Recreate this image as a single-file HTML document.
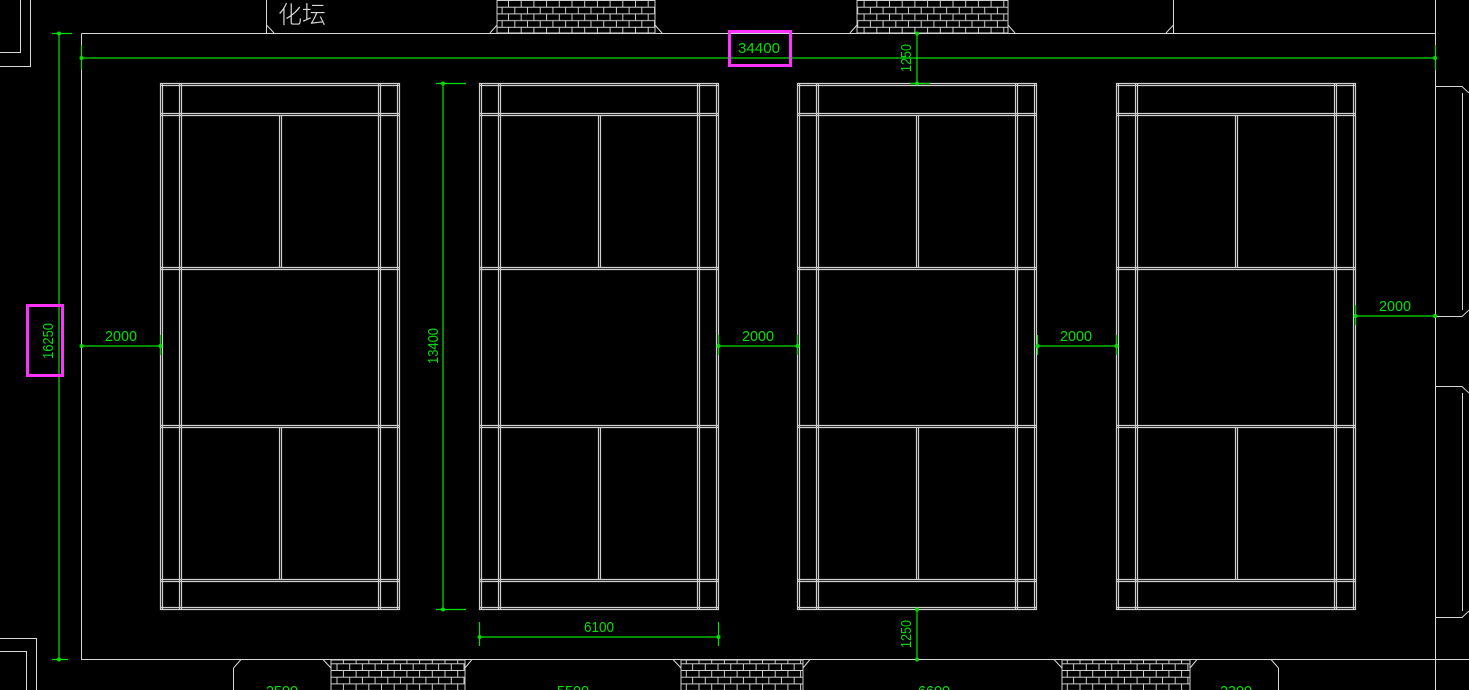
<!DOCTYPE html>
<html><head><meta charset="utf-8"><style>html,body{margin:0;padding:0;background:#000;}svg{display:block}</style></head>
<body>
<svg width="1469" height="690" viewBox="0 0 1469 690" xmlns="http://www.w3.org/2000/svg">
<defs>
<pattern id="brick" width="12.7" height="13.4" patternUnits="userSpaceOnUse" x="0" y="0">
<rect width="12.7" height="13.4" fill="#000"/>
<path d="M0 0.5H12.7M0 7.2H12.7M0.5 0.5V7.2M6.8 7.2V13.4" stroke="#cfcfcf" stroke-width="1" fill="none"/>
</pattern>
<g id="court" fill="none" stroke="#cfcfcf" stroke-width="1.2">
<path d="M0.5 0V527M2.5 0V527M237.5 0V527M239.5 0V527M19.5 0V527M21.5 0V527M218.5 0V527M220.5 0V527"/>
<path d="M0 0.5H240M0 2.5H240M0 30.5H240M0 32.5H240M0 184.5H240M0 186.5H240M0 342.5H240M0 344.5H240M0 496.5H240M0 498.5H240M0 524.5H240M0 526.5H240"/>
<path d="M119.5 32V184M121.5 32V184M119.5 344V496M121.5 344V496"/>
</g>
</defs>
<rect width="1469" height="690" fill="#000"/>
<g fill="none" stroke="#d8d8d8" stroke-width="1">
<path d="M81.5 33.5H1435M81.5 33.5V659.5H1435M1435.5 0V690"/>
<path d="M0 52.5H20.5V0M0 66.5H30.5V0"/>
<path d="M0 638.5H36.5V690M0 651.5H26.5V690"/>
<path d="M266.5 0V33M266.5 25L274 33"/>
<path d="M1173.5 0V33M1173.5 25L1166 33"/>
<path d="M497 25L490 33M655 25L662 33M857 25L850 33M1008 25L1015 33"/>
<path d="M233.5 690V668M233.5 668L241 659.5M331 668L323 659.5M465 668L472 659.5M681 668L673 659.5M803 668L810 659.5M1062 668L1054 659.5M1190 668L1197 659.5M1278.5 690V668M1278.5 668L1271 659.5"/>
<path d="M1435 86.5H1462L1469 93M1435 316.5H1462L1469 310M1462.5 93V310"/>
<path d="M1435 386.5H1462L1469 393M1435 617.5H1462L1469 611M1462.5 393V611"/>
<path d="M1435 659.5H1469"/>
</g>
<rect x="497" y="0" width="158" height="33" fill="url(#brick)" stroke="#cfcfcf"/>
<rect x="857" y="0" width="151" height="33" fill="url(#brick)" stroke="#cfcfcf"/>
<rect x="331" y="660" width="134" height="31" fill="url(#brick)" stroke="#cfcfcf"/>
<rect x="681" y="660" width="122" height="31" fill="url(#brick)" stroke="#cfcfcf"/>
<rect x="1062" y="660" width="128" height="31" fill="url(#brick)" stroke="#cfcfcf"/>
<text x="278" y="23" font-family="'Liberation Sans','Noto Sans CJK SC',sans-serif" font-size="24" font-weight="200" fill="#d8d8d8">化坛</text>
<use href="#court" x="160" y="83"/>
<use href="#court" x="479" y="83"/>
<use href="#court" x="797" y="83"/>
<use href="#court" x="1116" y="83"/>
<g stroke="#00e000" stroke-width="1.2" fill="none">
<path d="M59 33V659M52 33.5H72M52 659.5H68"/>
<path d="M81 58H1435M81.5 45V70M1435.5 45V70"/>
<path d="M917 33V83M910 83.5H930"/>
<path d="M917 609V659"/>
<path d="M443 83V609M436 83.5H466M436 609.5H466"/>
<path d="M81 346H160M718 346H797M1037 346H1116M1355 316H1435"/>
<path d="M160.5 335V355M797.5 335V355M1116.5 335V355M718.5 335V355M1037.5 335V355M1355.5 305V325"/>
<path d="M479 637H718M479.5 622V646M718.5 622V646"/>
</g>
<g fill="#00e000">
<circle cx="59" cy="33.5" r="2"/><circle cx="59" cy="659.5" r="2"/>
<circle cx="81.5" cy="58" r="2"/><circle cx="1435" cy="58" r="2"/>
<circle cx="917" cy="33.5" r="2"/><circle cx="917" cy="83.5" r="2"/>
<circle cx="917" cy="609.5" r="2"/><circle cx="917" cy="659.5" r="2"/>
<circle cx="443" cy="83.5" r="2"/><circle cx="443" cy="609.5" r="2"/>
<circle cx="81.5" cy="346" r="2"/><circle cx="160.5" cy="346" r="2"/>
<circle cx="718.5" cy="346" r="2"/><circle cx="797.5" cy="346" r="2"/>
<circle cx="1037.5" cy="346" r="2"/><circle cx="1116.5" cy="346" r="2"/>
<circle cx="1355.5" cy="316" r="2"/><circle cx="1435" cy="316" r="2"/>
<circle cx="479.5" cy="637" r="2"/><circle cx="718.5" cy="637" r="2"/>
</g>
<g fill="#00e000" font-family="'Liberation Sans',sans-serif" font-size="15" text-anchor="middle">
<text x="759" y="53" textLength="42" lengthAdjust="spacingAndGlyphs">34400</text>
<text x="121" y="341" textLength="32" lengthAdjust="spacingAndGlyphs">2000</text>
<text x="758" y="341" textLength="32" lengthAdjust="spacingAndGlyphs">2000</text>
<text x="1076" y="341" textLength="32" lengthAdjust="spacingAndGlyphs">2000</text>
<text x="1395" y="311" textLength="32" lengthAdjust="spacingAndGlyphs">2000</text>
<text x="599" y="632" textLength="30" lengthAdjust="spacingAndGlyphs">6100</text>
<text transform="translate(53,341) rotate(-90)" textLength="36" lengthAdjust="spacingAndGlyphs">16250</text>
<text transform="translate(438,346) rotate(-90)" textLength="36" lengthAdjust="spacingAndGlyphs">13400</text>
<text transform="translate(911,58) rotate(-90)" textLength="28" lengthAdjust="spacingAndGlyphs">1250</text>
<text transform="translate(911,634) rotate(-90)" textLength="28" lengthAdjust="spacingAndGlyphs">1250</text>
<text x="282" y="696" textLength="32" lengthAdjust="spacingAndGlyphs">2500</text>
<text x="573" y="696" textLength="32" lengthAdjust="spacingAndGlyphs">5500</text>
<text x="934" y="696" textLength="32" lengthAdjust="spacingAndGlyphs">6600</text>
<text x="1236" y="696" textLength="32" lengthAdjust="spacingAndGlyphs">2300</text>
</g>
<g fill="none" stroke="#ff33ff" stroke-width="3">
<rect x="729.5" y="31.5" width="61" height="34"/>
<rect x="27.5" y="305.5" width="35" height="70"/>
</g>
</svg>
</body></html>
